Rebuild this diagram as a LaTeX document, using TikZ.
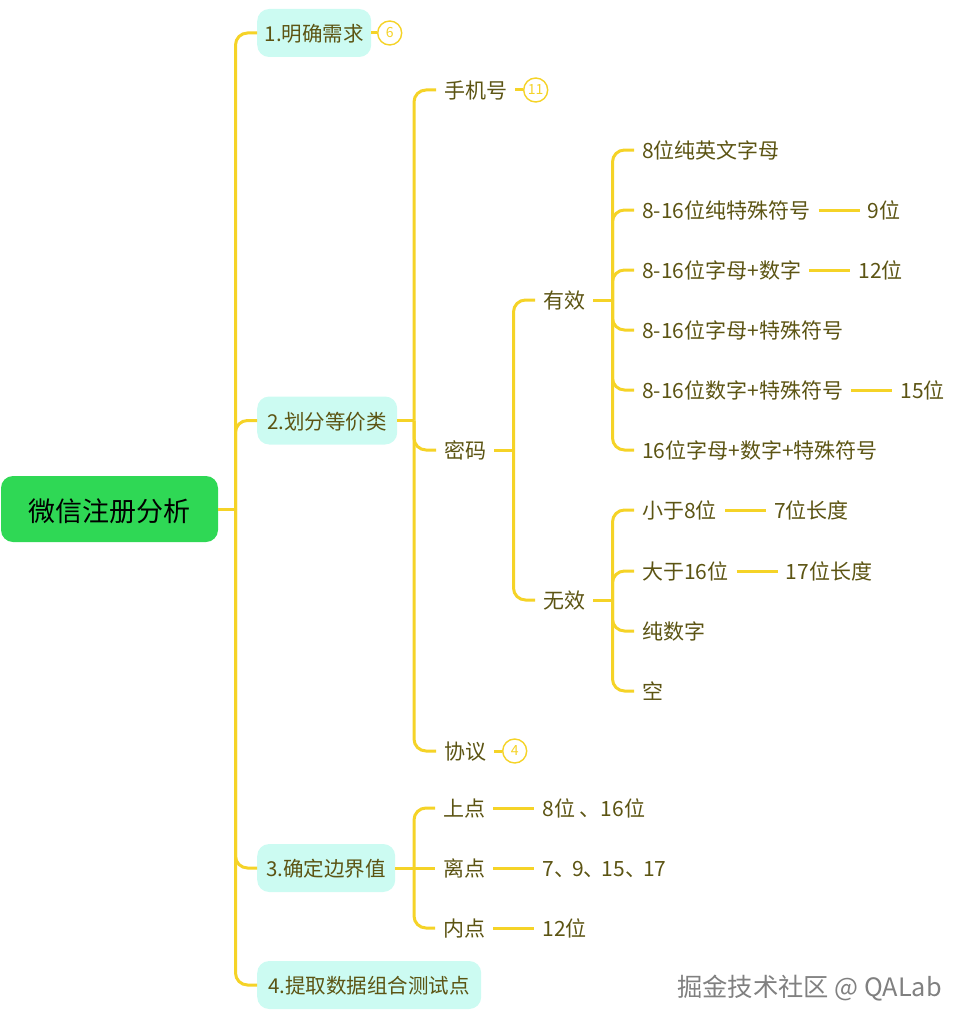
\documentclass[tikz,border=0pt]{standalone}
\usepackage{fontspec}
\usepackage{xcolor}
\usepackage{tikz}
\usetikzlibrary{positioning}
\setmainfont{Noto Sans CJK SC}
\definecolor{linkyellow}{HTML}{F5D327}
\definecolor{topicgreen}{HTML}{2FD855}
\definecolor{boxcyan}{HTML}{CCFBF2}
\definecolor{textolive}{HTML}{5C5413}
\tikzset{
  branch/.style={draw=linkyellow,line width=3pt,rounded corners=12pt},
  topic/.style={fill=topicgreen,rounded corners=12pt,minimum width=217pt,minimum height=66pt,inner sep=0pt,text height=25pt,text depth=0pt,font=\fontsize{27}{32}\selectfont,text=black},
  stage/.style={fill=boxcyan,rounded corners=12pt,minimum height=48pt,inner sep=0pt,text height=17pt,text depth=0pt,font=\fontsize{20.5}{25}\selectfont,text=textolive,anchor=west},
  leaf/.style={inner xsep=8pt,inner ysep=2pt,text height=17pt,text depth=0pt,font=\fontsize{21}{25}\selectfont,text=textolive,anchor=west},
  badge/.style={circle,draw=linkyellow,line width=1.4pt,fill=white,minimum size=24pt,inner sep=0pt,font=\fontsize{14}{16}\selectfont,text=linkyellow,anchor=west},
}
\begin{document}
\begin{tikzpicture}[x=1pt,y=-1pt]
  \useasboundingbox (0,0) rectangle (969,1030);

  \node[topic] (root) at (109.5,509) {微信注册分析};
  \coordinate (hubroot) at (235.5,509);

  \node[stage,minimum width=114pt] (s1) at (257,33) {1.明确需求};
  \node[stage,minimum width=140pt] (s2) at (257,420.5) {2.划分等价类};
  \node[stage,minimum width=138pt] (s3) at (257,868) {3.确定边界值};
  \node[stage,minimum width=224pt] (s4) at (257,985) {4.提取数据组合测试点};
  \node[badge] (b1) at (377,33) {6};

  % second stage
  \coordinate (hubtwo) at (414,420.5);
  \node[leaf] (phone) at (436,90) {手机号};
  \node[leaf] (pwd) at (436,450) {密码};
  \node[leaf] (proto) at (436,751) {协议};
  \node[badge] (b2) at (523,90) {11};
  \node[badge] (b3) at (502,751) {4};

  \coordinate (hubpwd) at (513.5,450);
  \node[leaf] (valid) at (535,300) {有效};
  \node[leaf] (invalid) at (535,600) {无效};

  \coordinate (hubvalid) at (612.5,300);
  \node[leaf] (v1) at (634,150) {8位纯英文字母};
  \node[leaf] (v2) at (634,210) {8-16位纯特殊符号};
  \node[leaf] (v3) at (634,270) {8-16位字母+数字};
  \node[leaf] (v4) at (634,330) {8-16位字母+特殊符号};
  \node[leaf] (v5) at (634,390) {8-16位数字+特殊符号};
  \node[leaf] (v6) at (634,450) {16位字母+数字+特殊符号};
  \node[leaf,right=41pt of v2] (v2len) {9位};
  \node[leaf,right=41pt of v3] (v3len) {12位};
  \node[leaf,right=41pt of v5] (v5len) {15位};

  \coordinate (hubinvalid) at (612.5,600);
  \node[leaf] (i1) at (634,510) {小于8位};
  \node[leaf] (i2) at (634,571) {大于16位};
  \node[leaf] (i3) at (634,631) {纯数字};
  \node[leaf] (i4) at (634,691) {空};
  \node[leaf,right=41pt of i1] (i1len) {7位长度};
  \node[leaf,right=41pt of i2] (i2len) {17位长度};

  % third stage
  \coordinate (hubthree) at (414,868);
  \node[leaf] (upper) at (435,808) {上点};
  \node[leaf] (off) at (435,868) {离点};
  \node[leaf] (inner) at (435,928) {内点};
  \node[leaf,right=41pt of upper] (uppernum) {8位 、16位};
  \node[leaf,right=41pt of off] (offnum) {7、\kern-3pt 9、\kern-3pt 15、\kern-3pt 17};
  \node[leaf,right=41pt of inner] (innernum) {12位};

  \node[anchor=east,inner sep=0pt,text=gray,font=\fontsize{25.3}{30}\selectfont] (mark) at (942,988) {掘金技术社区 @ QALab};

  % connectors
  \draw[branch] (root.east) -- (hubroot);
  \foreach \n in {s1,s2,s3,s4}
    \draw[branch] (hubroot) |- (\n.west);
  \draw[branch] (s2.east) -- (hubtwo);
  \foreach \n in {phone,pwd,proto}
    \draw[branch] (hubtwo) |- (\n.west);
  \draw[branch] (pwd.east) -- (hubpwd);
  \foreach \n in {valid,invalid}
    \draw[branch] (hubpwd) |- (\n.west);
  \draw[branch] (valid.east) -- (hubvalid);
  \foreach \n in {v1,v2,v3,v4,v5,v6}
    \draw[branch] (hubvalid) |- (\n.west);
  \draw[branch] (invalid.east) -- (hubinvalid);
  \foreach \n in {i1,i2,i3,i4}
    \draw[branch] (hubinvalid) |- (\n.west);
  \draw[branch] (s3.east) -- (off.west);
  \foreach \n in {upper,inner}
    \draw[branch] (hubthree) |- (\n.west);

  \draw[branch] (v2.east) -- (v2len.west);
  \draw[branch] (v3.east) -- (v3len.west);
  \draw[branch] (v5.east) -- (v5len.west);
  \draw[branch] (i1.east) -- (i1len.west);
  \draw[branch] (i2.east) -- (i2len.west);
  \draw[branch] (upper.east) -- (uppernum.west);
  \draw[branch] (off.east) -- (offnum.west);
  \draw[branch] (inner.east) -- (innernum.west);

  \draw[branch] (s1.east) -- (b1.west);
  \draw[branch] (phone.east) -- (b2.west);
  \draw[branch] (proto.east) -- (b3.west);
\end{tikzpicture}
\end{document}
